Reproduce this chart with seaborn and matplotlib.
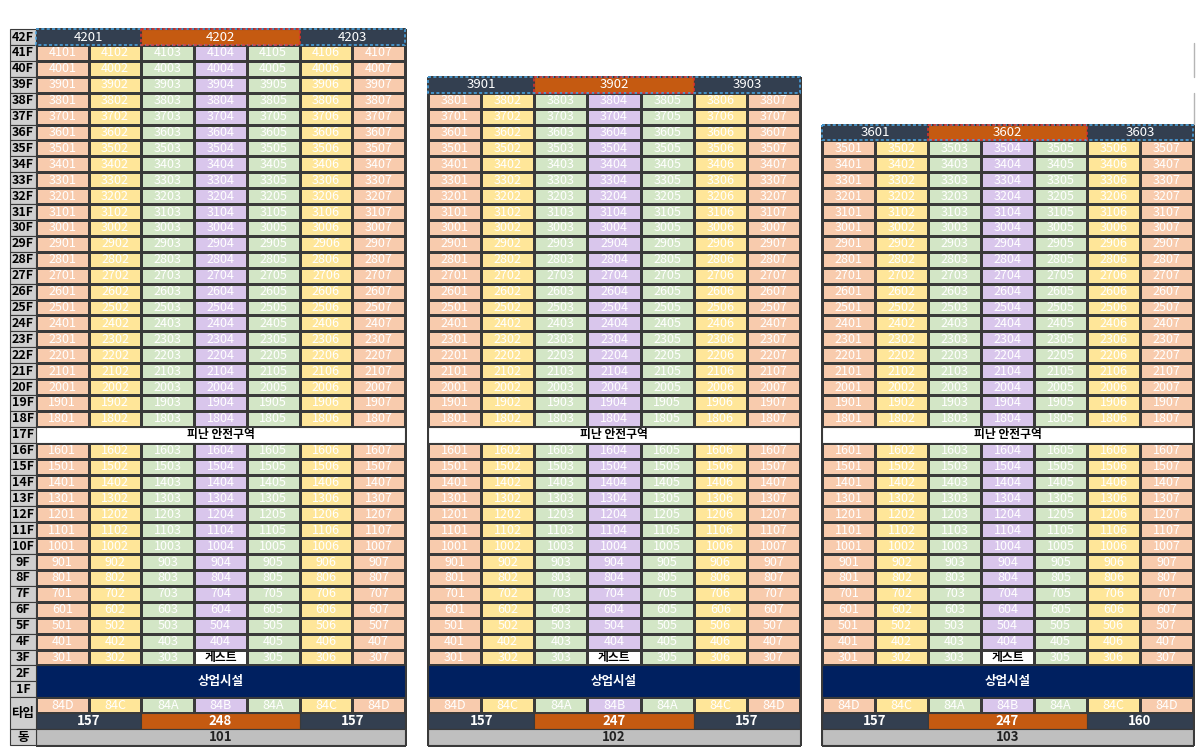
"""Unit layout chart for buildings 101-103 (floor plan grid)."""

import numpy as np
import pandas as pd
import matplotlib
matplotlib.use("Agg")  # non-interactive backend
import matplotlib.pyplot as plt
from matplotlib.colors import ListedColormap
from matplotlib.lines import Line2D
from matplotlib.patches import Rectangle
import seaborn as sns

# --- data ---
buildings = ["101", "102", "103"]
top_floors = [42, 39, 36]          # penthouse floor of each building
area_labels = [["157", "248", "157"],
               ["157", "247", "157"],
               ["157", "247", "160"]]
penthouse_spans = [2, 3, 2]        # columns covered by each penthouse unit
unit_types = ["84D", "84C", "84A", "84B", "84A", "84C", "84D"]
refuge_floor = 17
commercial_floors = [1, 2]
guest_floor, guest_line = 3, 4
refuge_label = "피난 안전구역"
commercial_label = "상업시설"
guest_label = "게스트"
type_row_label = "타입"
dong_row_label = "동"

# --- styling ---
type_order = ["84D", "84C", "84A", "84B", "guest"]
type_colors = ["#F8CBAD", "#FFE699", "#D3E6C6", "#D9C6EC", "#FFFFFF"]
DARK = "#333F50"
ORANGE = "#C55A11"
NAVY = "#002060"
GRID = "#3A3A3A"
LABEL_BG = "#CFCFCF"
DONG_BG = "#BFBFBF"

sns.set_style("white")
plt.rcParams["font.family"] = ["Noto Sans CJK KR", "DejaVu Sans"]

W, H = 1200, 756
ROW_PX = 15.91
BOTTOM_PX = 11
# pixel extents of the unit grid (left, right) for each building
unit_extent = [(36, 405), (428, 800), (822, 1193)]
label_px = 26  # width of floor label column (only on 101)


def build_grid(top):
    """Type codes + annotation text for one building, rows top floor -> dong row."""
    n_rows = top + 3
    codes = np.full((n_rows, len(unit_types)), np.nan)
    annot = np.full(codes.shape, "", dtype=object)
    for floor in range(3, top):
        if floor == refuge_floor:
            continue
        r = top - floor
        for c, t in enumerate(unit_types):
            line = c + 1
            if floor == guest_floor and line == guest_line:
                codes[r, c] = type_order.index("guest")
                annot[r, c] = guest_label
            else:
                codes[r, c] = type_order.index(t)
                annot[r, c] = f"{floor}{line:02d}"
    # type row
    for c, t in enumerate(unit_types):
        codes[top, c] = type_order.index(t)
        annot[top, c] = t
    return pd.DataFrame(codes), annot


def span_cells(ax, row, labels, colors, **text_kw):
    x = 0
    for span, lab, col in zip(penthouse_spans, labels, colors):
        ax.add_patch(Rectangle((x, row), span, 1, facecolor=col, edgecolor=GRID,
                               lw=0.8, clip_on=False))
        ax.text(x + span / 2, row + 0.5, lab, ha="center", va="center",
                color="white", fontsize=9.5, **text_kw)
        x += span


fig = plt.figure(figsize=(W / 100, H / 100), dpi=100)
cmap = ListedColormap(type_colors)

for i, (name, top) in enumerate(zip(buildings, top_floors)):
    left, right = unit_extent[i]
    col_px = (right - left) / len(unit_types)
    extra = label_px / col_px if i == 0 else 0
    ax_left = left - (label_px if i == 0 else 0)
    n_rows = top + 3
    ax = fig.add_axes([ax_left / W, BOTTOM_PX / H, (right - ax_left) / W, n_rows * ROW_PX / H])

    df, annot = build_grid(top)
    sns.heatmap(df, ax=ax, cmap=cmap, vmin=-0.5, vmax=len(type_colors) - 0.5, cbar=False,
                linewidths=0.8, linecolor=GRID, annot=annot, fmt="",
                annot_kws={"color": "white", "fontsize": 9},
                xticklabels=False, yticklabels=False)
    ax.collections[0].set_clip_on(False)
    for t in ax.texts:
        if t.get_text() == guest_label:
            t.set_color("black")
            t.set_fontweight("bold")
            t.set_fontsize(8.5)

    # penthouse row
    pent_units = [f"{top}{k:02d}" for k in range(1, len(penthouse_spans) + 1)]
    span_cells(ax, 0, pent_units, [DARK, ORANGE, DARK])
    ax.add_patch(Rectangle((0, 0), len(unit_types), 1, fill=False, edgecolor="#4AA8EA",
                           lw=1.1, ls=(0, (2, 1.5)), clip_on=False, zorder=5))
    ax.add_patch(Rectangle((penthouse_spans[0], 0), penthouse_spans[1], 1, fill=False,
                           edgecolor="#E5322D", lw=1.1, ls=(0, (2, 1.5)), clip_on=False, zorder=6))

    # refuge floor
    r = top - refuge_floor
    ax.add_patch(Rectangle((0, r), len(unit_types), 1, facecolor="white", edgecolor=GRID,
                           lw=0.8, clip_on=False))
    ax.text(len(unit_types) / 2, r + 0.5, refuge_label, ha="center", va="center",
            color="black", fontsize=8.5, fontweight="bold")

    # commercial floors
    r = top - max(commercial_floors)
    ax.add_patch(Rectangle((0, r), len(unit_types), len(commercial_floors), facecolor=NAVY,
                           edgecolor=GRID, lw=0.8, clip_on=False))
    ax.text(len(unit_types) / 2, r + len(commercial_floors) / 2, commercial_label,
            ha="center", va="center", color="white", fontsize=9, fontweight="bold")

    # area row + dong row
    span_cells(ax, top + 1, area_labels[i], [DARK, ORANGE, DARK], fontweight="semibold")
    ax.add_patch(Rectangle((0, top + 2), len(unit_types), 1, facecolor=DONG_BG,
                           edgecolor=GRID, lw=0.8, clip_on=False))
    ax.text(len(unit_types) / 2, top + 2.5, name, ha="center", va="center",
            color="#222222", fontsize=9.5, fontweight="semibold")

    # floor label column (first building only)
    if i == 0:
        labels = [f"{f}F" for f in range(top, 0, -1)]
        for r, lab in enumerate(labels):
            ax.add_patch(Rectangle((-extra, r), extra, 1, facecolor=LABEL_BG,
                                   edgecolor=GRID, lw=0.8, clip_on=False))
            ax.text(-extra / 2, r + 0.5, lab, ha="center", va="center",
                    color="black", fontsize=9, fontweight="bold")
        ax.add_patch(Rectangle((-extra, top), extra, 2, facecolor=LABEL_BG,
                               edgecolor=GRID, lw=0.8, clip_on=False))
        ax.text(-extra / 2, top + 1, type_row_label, ha="center", va="center",
                color="black", fontsize=9, fontweight="bold")
        ax.add_patch(Rectangle((-extra, top + 2), extra, 1, facecolor=LABEL_BG,
                               edgecolor=GRID, lw=0.8, clip_on=False))
        ax.text(-extra / 2, top + 2.5, dong_row_label, ha="center", va="center",
                color="black", fontsize=9, fontweight="bold")

    ax.set_xlim(-extra, len(unit_types))
    ax.set_ylim(n_rows, 0)
    ax.set_axis_off()

# stray page edge line at the right
for y0, y1 in [(43, 77), (93, 124)]:
    fig.add_artist(Line2D([1194 / W, 1194 / W], [1 - y0 / H, 1 - y1 / H],
                          color="#B5B5B5", lw=1))

fig.savefig("out.png", dpi=100, facecolor="white")
plt.close(fig)
